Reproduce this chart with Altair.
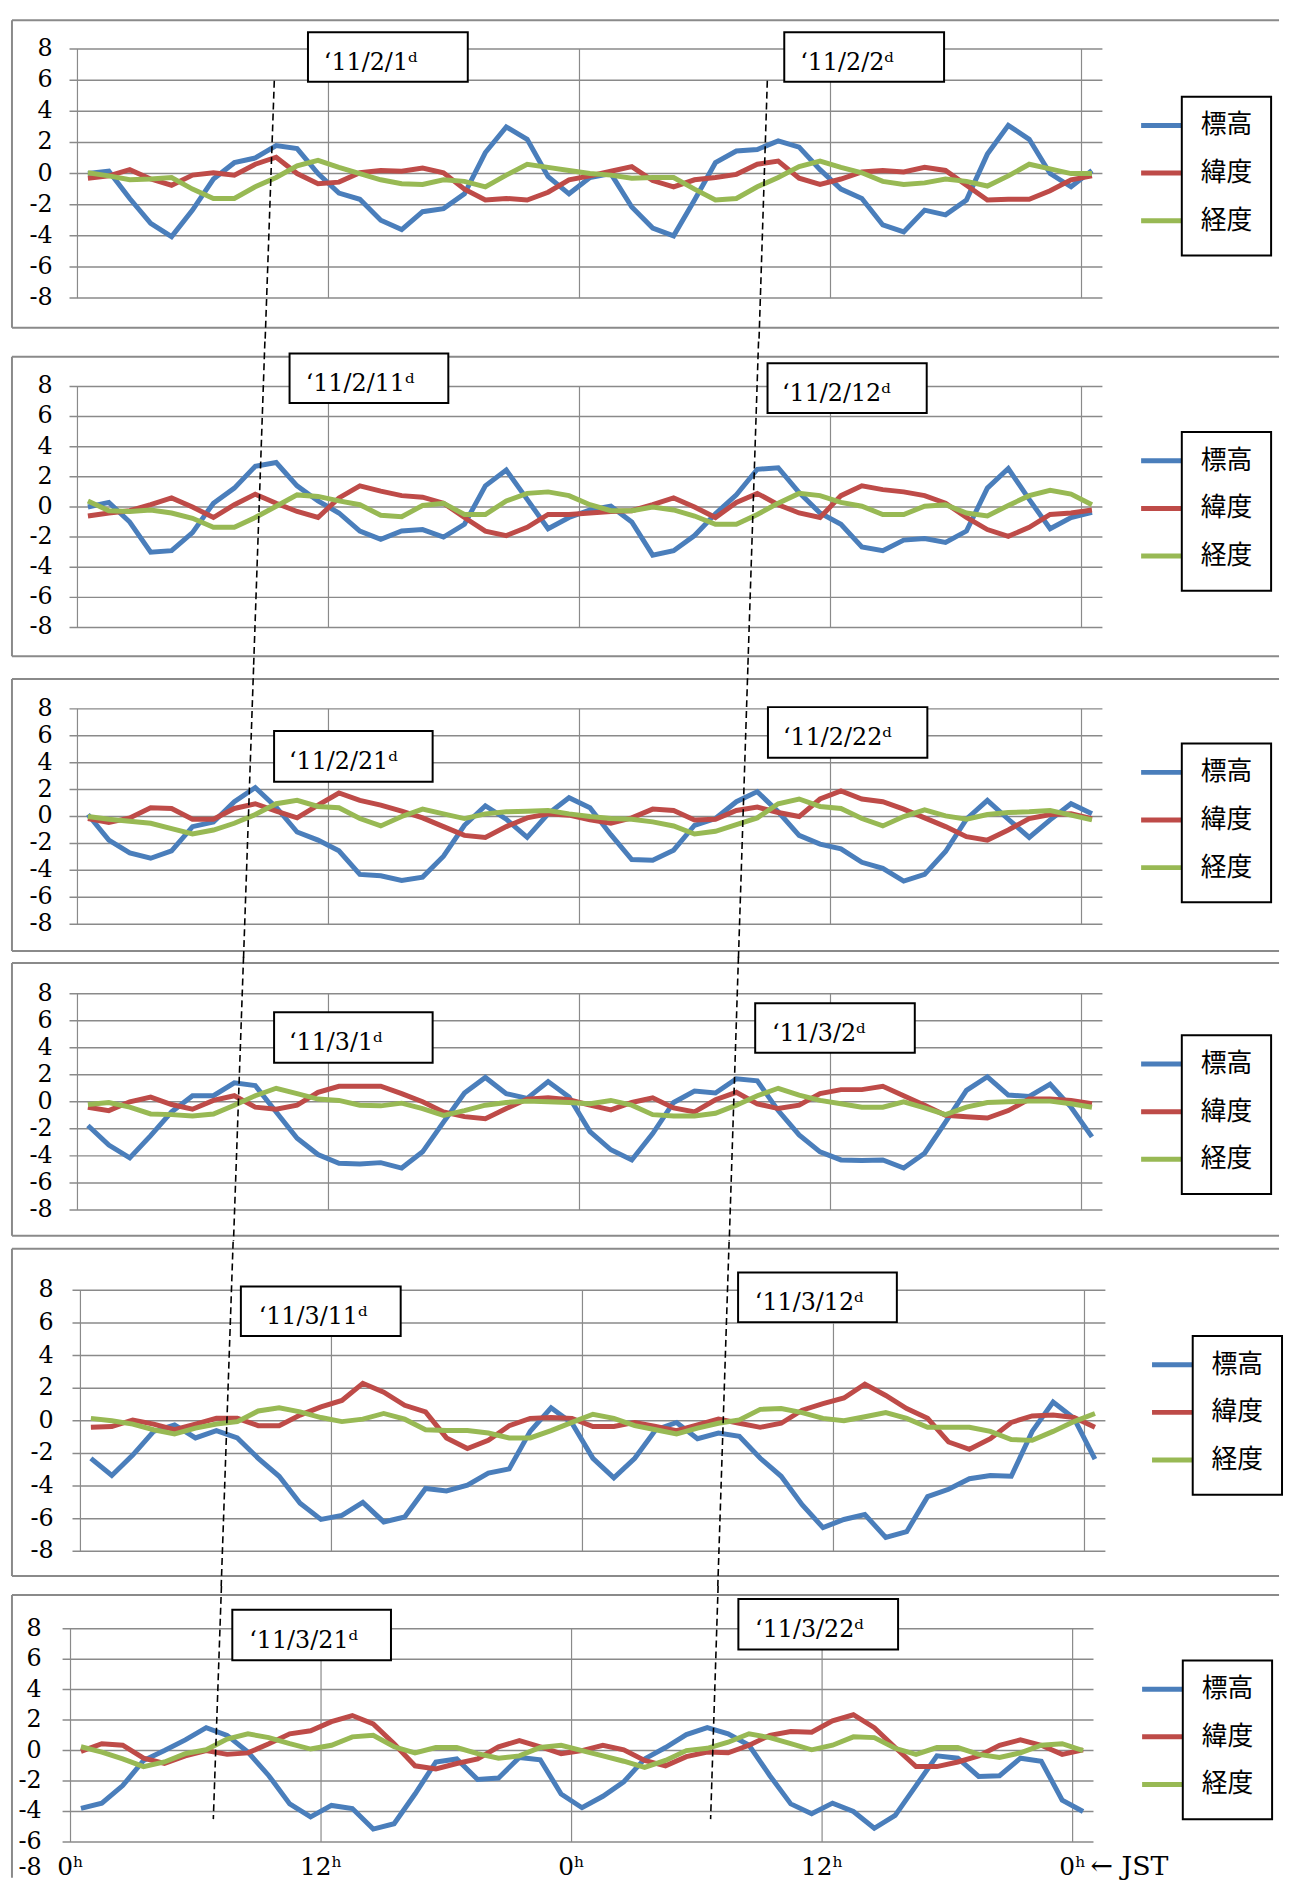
import altair as alt
import pandas as pd

SERIF = "DejaVu Serif"
CJK = "Noto Sans CJK JP"
GRID = "#8a8a8a"
FRAME = "#8a8a8a"

SERIES_NAMES = ["標高", "緯度", "経度"]
SERIES_COLORS = ["#4A7EBB", "#BE4B48", "#98B954"]
HOURS = list(range(49))            # hourly categories 0h .. 48h (JST)
X_GRID = [0, 12, 24, 36, 48]
X_TICK_LABELS = ["0ʰ", "12ʰ", "0ʰ", "12ʰ", "0ʰ"]
Y_TICKS = [8, 6, 4, 2, 0, -2, -4, -6, -8]
Y_TICK_LABELS = ["8", "6", "4", "2", "0", "-2", "-4", "-6", "-8"]

# ---- panel 1 : '11/2/1 - '11/2/2
P1_HEIGHT = [0.0, 0.15, -1.6, -3.2, -4.05, -2.35, -0.35, 0.7, 1.0, 1.8, 1.6, 0.0,
             -1.25, -1.65, -3.0, -3.6, -2.45, -2.25, -1.3, 1.35, 3.0, 2.2, -0.2, -1.3,
             -0.25, 0.0, -2.15, -3.5, -4.0, -1.7, 0.7, 1.45, 1.55, 2.1, 1.7, 0.25,
             -1.0, -1.6, -3.3, -3.75, -2.35, -2.65, -1.7, 1.25, 3.1, 2.2, 0.0, -0.85,
             0.2]
P1_LAT = [-0.3, -0.15, 0.25, -0.35, -0.75, -0.1, 0.05, -0.1, 0.6, 1.05, 0.0, -0.65,
          -0.55, 0.05, 0.2, 0.15, 0.35, 0.05, -1.0, -1.7, -1.6, -1.7, -1.2, -0.4,
          -0.15, 0.15, 0.45, -0.45, -0.85, -0.4, -0.25, -0.05, 0.6, 0.8, -0.3, -0.7,
          -0.35, 0.1, 0.2, 0.1, 0.4, 0.2, -0.75, -1.7, -1.65, -1.65, -1.1, -0.4,
          -0.15]
P1_LON = [0.05, -0.15, -0.4, -0.35, -0.25, -1.0, -1.6, -1.6, -0.85, -0.25, 0.5, 0.85,
          0.4, 0.0, -0.4, -0.65, -0.7, -0.4, -0.5, -0.85, -0.1, 0.6, 0.4, 0.2,
          0.0, -0.1, -0.3, -0.25, -0.25, -1.0, -1.7, -1.6, -0.85, -0.25, 0.45, 0.8,
          0.4, 0.05, -0.5, -0.7, -0.6, -0.35, -0.5, -0.8, -0.15, 0.6, 0.3, 0.0,
          0.0]

# ---- panel 2 : '11/2/11 - '11/2/12
P2_HEIGHT = [0.0, 0.3, -1.0, -3.0, -2.9, -1.7, 0.25, 1.25, 2.7, 2.95, 1.4, 0.4,
             -0.4, -1.6, -2.15, -1.6, -1.5, -2.0, -1.15, 1.4, 2.45, 0.5, -1.45, -0.7,
             -0.2, 0.05, -1.0, -3.2, -2.9, -1.9, -0.45, 0.8, 2.5, 2.6, 0.95, -0.4,
             -1.15, -2.65, -2.9, -2.2, -2.1, -2.35, -1.6, 1.25, 2.55, 0.5, -1.45, -0.7,
             -0.35]
P2_LAT = [-0.6, -0.4, -0.25, 0.15, 0.6, 0.0, -0.7, 0.15, 0.85, 0.25, -0.3, -0.7,
          0.6, 1.4, 1.05, 0.75, 0.65, 0.25, -0.7, -1.6, -1.9, -1.35, -0.5, -0.5,
          -0.4, -0.3, -0.25, 0.15, 0.6, 0.0, -0.7, 0.3, 0.9, 0.15, -0.4, -0.7,
          0.75, 1.4, 1.15, 1.0, 0.75, 0.25, -0.7, -1.5, -1.95, -1.35, -0.5, -0.4,
          -0.2]
P2_LON = [0.4, -0.25, -0.3, -0.2, -0.4, -0.75, -1.35, -1.35, -0.7, 0.05, 0.8, 0.7,
          0.4, 0.15, -0.55, -0.65, 0.1, 0.25, -0.5, -0.5, 0.4, 0.9, 1.0, 0.75,
          0.15, -0.25, -0.25, 0.0, -0.2, -0.6, -1.15, -1.15, -0.5, 0.25, 0.9, 0.75,
          0.3, 0.05, -0.5, -0.5, 0.05, 0.15, -0.4, -0.6, 0.1, 0.75, 1.1, 0.85,
          0.15]

# ---- panel 3 : '11/2/21 - '11/2/22
P3_HEIGHT = [0.15, -1.75, -2.7, -3.1, -2.55, -0.75, -0.4, 1.1, 2.15, 0.7, -1.15, -1.75,
             -2.55, -4.3, -4.4, -4.75, -4.5, -2.95, -0.65, 0.8, -0.2, -1.55, 0.2, 1.4,
             0.65, -1.35, -3.2, -3.25, -2.5, -0.65, -0.15, 1.1, 1.85, 0.35, -1.4, -2.05,
             -2.4, -3.4, -3.85, -4.8, -4.3, -2.6, -0.2, 1.2, -0.2, -1.55, -0.25, 0.95,
             0.2]
P3_LAT = [-0.15, -0.45, -0.1, 0.65, 0.6, -0.2, -0.2, 0.6, 0.95, 0.4, -0.1, 0.85,
          1.75, 1.2, 0.85, 0.4, -0.1, -0.75, -1.4, -1.55, -0.75, -0.1, 0.2, 0.1,
          -0.25, -0.5, -0.1, 0.55, 0.45, -0.25, -0.2, 0.45, 0.7, 0.3, 0.0, 1.3,
          1.9, 1.3, 1.1, 0.55, -0.1, -0.75, -1.5, -1.75, -1.0, -0.15, 0.15, 0.2,
          -0.15]
P3_LON = [0.0, -0.2, -0.35, -0.5, -0.9, -1.3, -1.0, -0.5, 0.15, 0.95, 1.2, 0.75,
          0.65, -0.15, -0.7, 0.0, 0.55, 0.2, -0.15, 0.2, 0.35, 0.4, 0.45, 0.2,
          0.0, -0.15, -0.2, -0.4, -0.7, -1.3, -1.1, -0.6, -0.1, 0.95, 1.3, 0.75,
          0.6, -0.15, -0.7, 0.0, 0.5, 0.05, -0.2, 0.15, 0.3, 0.35, 0.45, 0.1,
          -0.25]

# ---- panel 4 : '11/3/1 - '11/3/2
P4_HEIGHT = [-1.75, -3.2, -4.15, -2.5, -0.75, 0.45, 0.45, 1.4, 1.2, -0.75, -2.7, -3.9,
             -4.55, -4.6, -4.5, -4.9, -3.7, -1.5, 0.65, 1.8, 0.6, 0.25, 1.5, 0.35,
             -2.2, -3.55, -4.3, -2.35, -0.05, 0.8, 0.65, 1.7, 1.55, -0.65, -2.45, -3.7,
             -4.3, -4.35, -4.3, -4.9, -3.8, -1.5, 0.85, 1.85, 0.5, 0.4, 1.3, -0.4,
             -2.6]
P4_LAT = [-0.4, -0.65, 0.0, 0.35, -0.2, -0.55, 0.1, 0.45, -0.4, -0.55, -0.25, 0.7,
          1.15, 1.15, 1.15, 0.6, 0.0, -0.75, -1.1, -1.25, -0.5, 0.2, 0.3, 0.15,
          -0.25, -0.6, -0.05, 0.3, -0.45, -0.75, 0.15, 0.7, -0.15, -0.5, -0.25, 0.6,
          0.9, 0.9, 1.15, 0.45, -0.25, -1.0, -1.1, -1.2, -0.65, 0.2, 0.2, 0.1,
          -0.15]
P4_LON = [-0.2, -0.05, -0.4, -0.9, -0.95, -1.05, -0.9, -0.25, 0.45, 1.0, 0.6, 0.2,
          0.1, -0.25, -0.3, -0.1, -0.5, -1.0, -0.65, -0.25, -0.05, 0.05, 0.0, -0.05,
          -0.15, 0.1, -0.25, -0.95, -1.05, -1.05, -0.85, -0.25, 0.45, 1.0, 0.5, 0.1,
          -0.15, -0.4, -0.4, 0.0, -0.45, -0.95, -0.4, -0.05, 0.0, 0.05, 0.05, -0.15,
          -0.4]

# ---- panel 5 : '11/3/11 - '11/3/12
P5_HEIGHT = [-2.3, -3.35, -2.1, -0.65, -0.25, -1.05, -0.6, -1.05, -2.3, -3.4, -5.05, -6.05,
             -5.8, -5.0, -6.2, -5.9, -4.15, -4.3, -3.95, -3.2, -2.95, -0.65, 0.8, -0.15,
             -2.3, -3.5, -2.3, -0.55, -0.1, -1.1, -0.75, -0.95, -2.3, -3.4, -5.15, -6.55,
             -6.05, -5.75, -7.15, -6.8, -4.65, -4.2, -3.55, -3.35, -3.4, -0.65, 1.15, 0.15,
             -2.35]
P5_LAT = [-0.4, -0.35, 0.05, -0.2, -0.55, -0.2, 0.15, 0.15, -0.3, -0.3, 0.35, 0.85,
          1.25, 2.3, 1.75, 0.95, 0.55, -1.05, -1.7, -1.2, -0.3, 0.15, 0.2, 0.15,
          -0.35, -0.35, -0.1, -0.35, -0.6, -0.25, 0.1, -0.15, -0.4, -0.15, 0.65, 1.05,
          1.4, 2.25, 1.55, 0.75, 0.15, -1.3, -1.75, -1.1, -0.1, 0.3, 0.35, 0.2,
          -0.4]
P5_LON = [0.15, 0.0, -0.2, -0.55, -0.8, -0.45, -0.2, -0.05, 0.6, 0.8, 0.55, 0.2,
          -0.05, 0.1, 0.45, 0.1, -0.55, -0.6, -0.6, -0.75, -1.05, -1.05, -0.6, -0.1,
          0.4, 0.15, -0.3, -0.55, -0.8, -0.45, -0.15, 0.05, 0.7, 0.75, 0.5, 0.15,
          0.0, 0.25, 0.5, 0.15, -0.4, -0.4, -0.4, -0.65, -1.15, -1.2, -0.65, -0.05,
          0.45]

# ---- panel 6 : '11/3/21 - '11/3/22
P6_HEIGHT = [-3.8, -3.45, -2.3, -0.65, 0.0, 0.7, 1.5, 1.0, -0.1, -1.65, -3.5, -4.35,
             -3.6, -3.8, -5.15, -4.8, -2.85, -0.75, -0.55, -1.9, -1.8, -0.45, -0.6, -2.85,
             -3.75, -3.0, -2.05, -0.55, 0.2, 1.05, 1.5, 1.1, 0.35, -1.65, -3.5, -4.15,
             -3.45, -4.0, -5.1, -4.25, -2.3, -0.35, -0.5, -1.7, -1.65, -0.5, -0.7, -3.25,
             -4.0]
P6_LAT = [-0.05, 0.45, 0.35, -0.5, -0.85, -0.35, 0.0, -0.25, -0.15, 0.45, 1.1, 1.3,
          1.9, 2.3, 1.75, 0.45, -1.0, -1.2, -0.85, -0.55, 0.25, 0.65, 0.25, -0.2,
          0.0, 0.35, 0.05, -0.65, -1.0, -0.4, -0.1, -0.15, 0.35, 1.0, 1.25, 1.2,
          1.95, 2.35, 1.5, 0.2, -1.05, -1.05, -0.75, -0.35, 0.35, 0.7, 0.35, -0.25,
          0.05]
P6_LON = [0.25, -0.1, -0.55, -1.05, -0.75, -0.2, 0.05, 0.75, 1.1, 0.85, 0.45, 0.1,
          0.35, 0.9, 1.0, 0.25, -0.15, 0.2, 0.2, -0.2, -0.5, -0.35, 0.2, 0.35,
          0.0, -0.35, -0.7, -1.1, -0.65, 0.0, 0.15, 0.55, 1.1, 0.85, 0.45, 0.05,
          0.35, 0.9, 0.85, 0.15, -0.25, 0.2, 0.2, -0.25, -0.45, -0.15, 0.35, 0.45,
          0.0]

PANEL_SERIES = [
    (P1_HEIGHT, P1_LAT, P1_LON),
    (P2_HEIGHT, P2_LAT, P2_LON),
    (P3_HEIGHT, P3_LAT, P3_LON),
    (P4_HEIGHT, P4_LAT, P4_LON),
    (P5_HEIGHT, P5_LAT, P5_LON),
    (P6_HEIGHT, P6_LAT, P6_LON),
]

DATE_LABELS = [
    ("‘11/2/1ᵈ", "‘11/2/2ᵈ"),
    ("‘11/2/11ᵈ", "‘11/2/12ᵈ"),
    ("‘11/2/21ᵈ", "‘11/2/22ᵈ"),
    ("‘11/3/1ᵈ", "‘11/3/2ᵈ"),
    ("‘11/3/11ᵈ", "‘11/3/12ᵈ"),
    ("‘11/3/21ᵈ", "‘11/3/22ᵈ"),
]
# label box in data units: (hour from, hour to, value top, value bottom, text hour, text baseline value)
DATE_BOXES = [
    [(11.02, 18.66, 9.08, 5.90, 11.78, 6.66), (33.79, 41.43, 9.08, 5.90, 34.55, 6.66)],
    [(10.14, 17.73, 10.19, 6.90, 10.91, 7.69), (32.99, 40.60, 9.53, 6.24, 33.68, 7.03)],
    [(9.40, 16.98, 6.35, 2.59, 10.11, 3.55), (33.01, 40.63, 8.13, 4.36, 33.73, 5.32)],
    [(9.40, 16.98, 6.63, 2.89, 10.11, 3.85), (32.40, 40.03, 7.29, 3.63, 33.20, 4.51)],
    [(7.67, 15.31, 8.24, 5.20, 8.52, 5.93), (31.44, 39.03, 9.09, 6.05, 32.24, 6.78)],
    [(7.75, 15.35, 9.24, 5.92, 8.56, 6.76), (31.99, 39.64, 9.95, 6.63, 32.79, 7.48)],
]
# slanted dashed guide lines (hour, value) -> (hour, value), one pair per panel
DASHES = [
    [(9.41, 5.96, 8.97, -10.80), (32.98, 5.96, 32.58, -10.80)],
    [(8.96, 10.98, 8.42, -10.61), (32.56, 10.98, 32.05, -10.61)],
    [(8.42, 11.08, 7.94, -10.49), (32.05, 11.08, 31.60, -10.49)],
    [(7.94, 10.73, 7.46, -10.29), (31.60, 10.73, 31.16, -10.29)],
    [(7.30, 10.98, 6.73, -10.13), (31.01, 10.98, 30.47, -10.13)],
    [(7.23, 10.80, 6.84, -4.50), (31.02, 10.80, 30.66, -4.50)],
]

# page layout of each panel (pixels)
GEOM = [
    dict(left=77, top=41, height=251, pw=1033, ymin=-8, frame=(12, 322), legend=(1190, 89), lpad=17),
    dict(left=77, top=381, height=243, pw=1033, ymin=-8, frame=(351, 653), legend=(1190, 427), lpad=17),
    dict(left=77, top=706, height=217, pw=1033, ymin=-8, frame=(676, 950), legend=(1190, 741), lpad=17),
    dict(left=77, top=993, height=218, pw=1033, ymin=-8, frame=(962, 1237), legend=(1190, 1035), lpad=17),
    dict(left=80, top=1292, height=263, pw=1033, ymin=-8, frame=(1250, 1580), legend=(1201, 1338), lpad=19),
    dict(left=70, top=1633, height=215, pw=1031, ymin=-6, frame=(1599, 1884), legend=(1191, 1665), lpad=21),
]
FRAME_X = (11, 1288)
VIEW_LEFT = min(g["left"] for g in GEOM)
TICK = 8

ONE = pd.DataFrame({"d": [0]})


def pix_rule(x1, x2, y1, y2, **kw):
    return alt.Chart(ONE).mark_rule(**kw).encode(
        x=alt.value(x1), x2=alt.value(x2), y=alt.value(y1), y2=alt.value(y2))


def pix_rect(x1, x2, y1, y2, **kw):
    return alt.Chart(ONE).mark_rect(**kw).encode(
        x=alt.value(x1), x2=alt.value(x2), y=alt.value(y1), y2=alt.value(y2))


def pix_text(x, y, text, **kw):
    return alt.Chart(ONE).mark_text(text=text, **kw).encode(x=alt.value(x), y=alt.value(y))


def spacer(w, h):
    return alt.Chart(ONE).mark_point(opacity=0).encode(
        x=alt.value(0), y=alt.value(0)).properties(width=w, height=h)


def panel(k):
    g = GEOM[k]
    T, H = g["top"], g["height"]
    shift = g["left"] - VIEW_LEFT
    W = shift + g["pw"]
    last = k == len(GEOM) - 1
    xs = alt.Scale(domain=[0, 49], range=[shift, W], nice=False, zero=False)
    ys = alt.Scale(domain=[g["ymin"], 8], nice=False, zero=False)

    layers = []
    # horizontal grid lines with their tick stubs, and y tick labels
    yt = pd.DataFrame({"v": Y_TICKS, "t": Y_TICK_LABELS})
    yt = yt[yt["v"] >= g["ymin"]]
    layers.append(alt.Chart(yt).mark_rule(color=GRID, strokeWidth=1.5).encode(
        y=alt.Y("v:Q", scale=ys, axis=None), x=alt.value(shift - TICK), x2=alt.value(W)))
    layers.append(alt.Chart(yt).mark_text(font=SERIF, fontSize=24, align="right", baseline="middle",
                                          color="black").encode(
        y=alt.Y("v:Q", scale=ys, axis=None), x=alt.value(shift - TICK - g["lpad"]), text="t:N"))
    # vertical grid lines
    xt = pd.DataFrame({"h": X_GRID, "t": X_TICK_LABELS})
    layers.append(alt.Chart(xt).mark_rule(color=GRID, strokeWidth=1.2).encode(
        x=alt.X("h:Q", scale=xs, axis=None), y=alt.value(0), y2=alt.value(H)))
    if last:
        layers.append(alt.Chart(xt).mark_text(font=SERIF, fontSize=25, align="center", baseline="top",
                                              color="black").encode(
            x=alt.X("h:Q", scale=xs, axis=None), y=alt.value(H + 13), text="t:N"))

    # data lines
    for i, color in enumerate(SERIES_COLORS):
        df = pd.DataFrame({"pos": [h + 0.5 for h in HOURS], "val": PANEL_SERIES[k][i]})
        layers.append(alt.Chart(df).mark_line(color=color, strokeWidth=5).encode(
            x=alt.X("pos:Q", scale=xs, axis=None),
            y=alt.Y("val:Q", scale=ys, axis=None)))

    # panel frame (top, left, bottom edges)
    fl, fr = FRAME_X[0] - VIEW_LEFT, FRAME_X[1] - VIEW_LEFT
    ft, fb = g["frame"][0] - T, g["frame"][1] - T
    layers.append(pix_rule(fl, fr, ft, ft, color=FRAME, strokeWidth=2))
    layers.append(pix_rule(fl, fl, ft, fb, color=FRAME, strokeWidth=2))
    if not last:
        layers.append(pix_rule(fl, fr, fb, fb, color=FRAME, strokeWidth=2))

    # dashed guide lines
    dd = pd.DataFrame(DASHES[k], columns=["xa", "ya", "xb", "yb"])
    layers.append(alt.Chart(dd).mark_rule(color="black", strokeWidth=1.6, strokeDash=[7, 4]).encode(
        x=alt.X("xa:Q", scale=xs, axis=None), x2="xb:Q",
        y=alt.Y("ya:Q", scale=ys, axis=None), y2="yb:Q"))

    # date label boxes
    bd = pd.DataFrame(DATE_BOXES[k], columns=["bx1", "bx2", "by1", "by2", "tx", "ty"])
    bd["label"] = list(DATE_LABELS[k])
    layers.append(alt.Chart(bd).mark_rect(fill="white", stroke="black", strokeWidth=2).encode(
        x=alt.X("bx1:Q", scale=xs, axis=None), x2="bx2:Q",
        y=alt.Y("by1:Q", scale=ys, axis=None), y2="by2:Q"))
    layers.append(alt.Chart(bd).mark_text(align="left", baseline="alphabetic", font=SERIF,
                                          fontSize=24, color="black").encode(
        x=alt.X("tx:Q", scale=xs, axis=None), y=alt.Y("ty:Q", scale=ys, axis=None), text="label:N"))

    # legend
    lx, ly = g["legend"][0] - VIEW_LEFT, g["legend"][1] - T
    for j, color in enumerate(SERIES_COLORS):
        yy = ly + 29 + 48 * j
        layers.append(pix_rule(lx - 41, lx, yy, yy, color=color, strokeWidth=5))
    layers.append(pix_rect(lx, lx + 90, ly, ly + 160, fill="white", stroke="black", strokeWidth=2))
    for j, name in enumerate(SERIES_NAMES):
        yy = ly + 29 + 48 * j
        layers.append(pix_text(lx + 45, yy, name, font=CJK, fontSize=26, align="center",
                               baseline="middle", color="black"))

    if last:
        layers.append(pix_text(shift - TICK - g["lpad"], H + 14, "-8", font=SERIF, fontSize=24,
                               align="right", baseline="top", color="black"))
        layers.append(pix_text(1098 - VIEW_LEFT, H + 12, "← JST", font=SERIF, fontSize=27,
                               align="left", baseline="top", color="black"))

    return alt.layer(*layers).properties(width=W, height=H)


rows = []
for k, g in enumerate(GEOM):
    rows.append(panel(k))
    if k < len(GEOM) - 1:
        gap = GEOM[k + 1]["top"] - (g["top"] + g["height"])
        rows.append(spacer(g["pw"], gap))

chart = alt.vconcat(*rows, spacing=0, bounds="flush").properties(
    padding={"left": 2, "top": 3, "right": 0, "bottom": 0},
    background="white",
).configure_view(stroke="transparent")

chart.save("out.html", embed_options={"renderer": "svg", "actions": False})
